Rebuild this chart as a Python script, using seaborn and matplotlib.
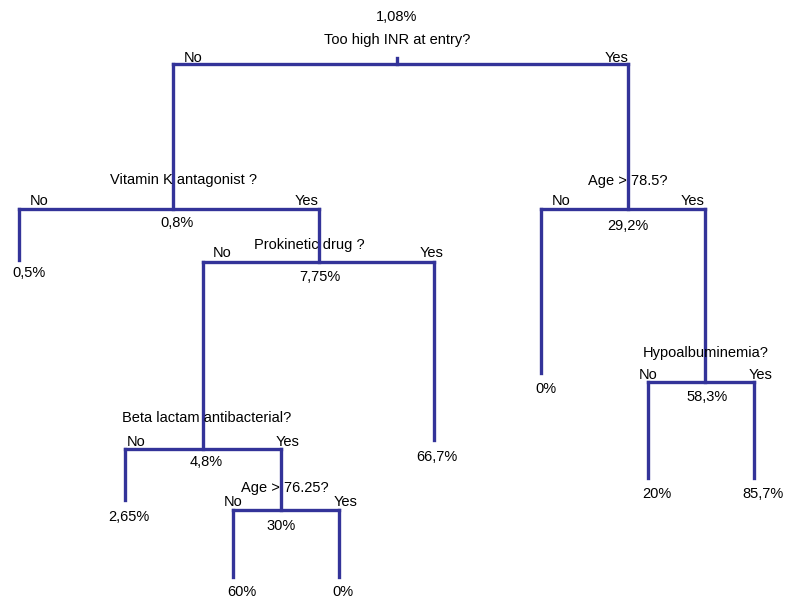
import pandas as pd
import matplotlib
matplotlib.use("Agg")
import matplotlib.pyplot as plt
import seaborn as sns

# Internal nodes of the tree (split questions and event rates)
questions = ["Too high INR at entry?", "Vitamin K antagonist ?", "Prokinetic drug ?",
             "Beta lactam antibacterial?", "Age > 76.25?", "Age > 78.5?", "Hypoalbuminemia?"]
rates = ["1,08%", "0,8%", "7,75%", "4,8%", "30%", "29,2%", "58,3%"]
parent = [None, 0, 1, 2, 3, 0, 5]

# Layout of the nodes (pixel coordinates)
node_x = [397, 173, 319, 203, 281, 628, 705]
node_y = [64, 209, 262, 449, 510, 209, 382]
node_left = [173, 19, 203, 125, 233, 541, 648]
node_right = [628, 319, 434, 281, 339, 705, 754]
question_xy = [(397, 40), (184, 180), (309, 245), (207, 418), (285, 488), (628, 181), (706, 353)]
rate_xy = [(397, 17), (177, 223), (320, 277), (206, 462), (281, 526), (628, 226), (707, 397)]
no_xy = [(193, 58), (39, 201), (222, 253), (136, 442), (233, 502), (561, 201), (648, 375)]
yes_xy = [(617, 58), (307, 201), (432, 253), (288, 442), (346, 502), (693, 201), (761, 375)]

# Leaves
leaf_rates = ["0,5%", "66,7%", "2,65%", "60%", "0%", "0%", "20%", "85,7%"]
leaf_parent = [1, 2, 3, 4, 4, 5, 6, 6]
leaf_x = [19, 434, 125, 233, 339, 541, 648, 754]
leaf_end_y = [260, 440, 500, 577, 577, 373, 478, 478]
leaf_label_xy = [(29, 273), (437, 457), (129, 517), (242, 592), (343, 592), (546, 389), (657, 494), (763, 494)]

COLOR = "#333399"

# build line segments
rows = []
seg = 0
for i in range(len(questions)):
    y0 = node_y[parent[i]] if parent[i] is not None else node_y[i] - 6
    rows += [(node_x[i], y0, seg), (node_x[i], node_y[i], seg)]
    seg += 1
    rows += [(node_left[i], node_y[i], seg), (node_right[i], node_y[i], seg)]
    seg += 1
for j in range(len(leaf_rates)):
    rows += [(leaf_x[j], node_y[leaf_parent[j]], seg), (leaf_x[j], leaf_end_y[j], seg)]
    seg += 1
df = pd.DataFrame(rows, columns=["x", "y", "seg"])

sns.set_theme(style="white")
plt.rcParams["font.family"] = ["Liberation Sans", "DejaVu Sans"]

fig = plt.figure(figsize=(7.87, 6.02), dpi=100)
ax = fig.add_axes([0, 0, 1, 1])
sns.lineplot(data=df, x="x", y="y", units="seg", estimator=None, sort=False,
             color=COLOR, linewidth=2.4, ax=ax, legend=False,
             solid_capstyle="projecting")

fs = 10.5
for i in range(len(questions)):
    ax.text(*question_xy[i], questions[i], ha="center", va="center", fontsize=fs, color="black")
    ax.text(*rate_xy[i], rates[i], ha="center", va="center", fontsize=fs, color="black")
    ax.text(*no_xy[i], "No", ha="center", va="center", fontsize=fs, color="black")
    ax.text(*yes_xy[i], "Yes", ha="center", va="center", fontsize=fs, color="black")
for j in range(len(leaf_rates)):
    ax.text(*leaf_label_xy[j], leaf_rates[j], ha="center", va="center", fontsize=fs, color="black")

ax.set_xlim(0, 787)
ax.set_ylim(602, 0)
ax.axis("off")
fig.savefig("out.png", dpi=100)
